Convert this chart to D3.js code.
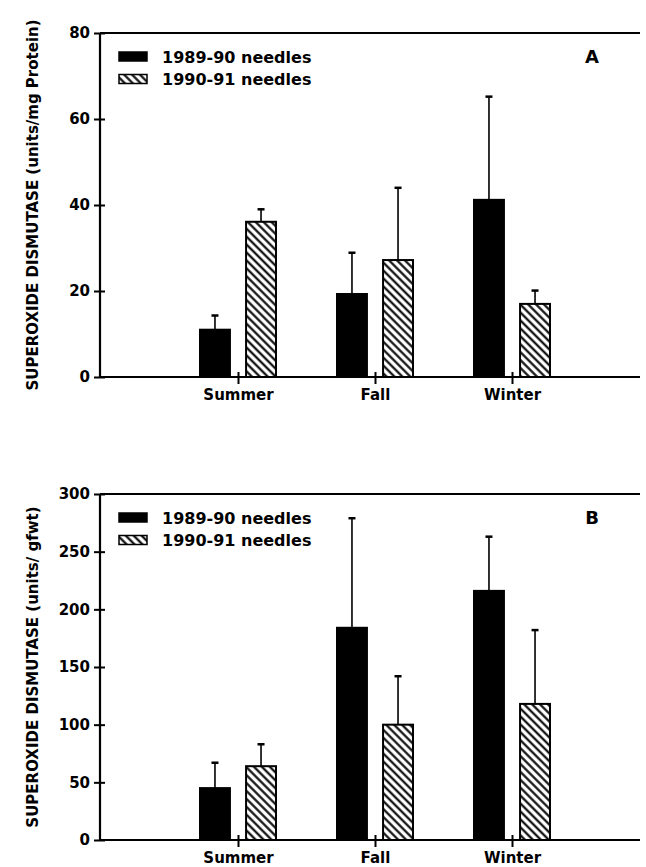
<!DOCTYPE html>
<html>
<head>
<meta charset="utf-8">
<script src="https://cdn.jsdelivr.net/npm/d3@7"></script>
<style>
    body { margin: 0; background: #fff; }
    svg { display: block; }
    text { font-family: "DejaVu Sans", sans-serif; font-weight: bold; fill: #000; }
</style>
</head>
<body>
<svg id="chart" width="646" height="867"></svg>
<script>
const SEASONS = ['Summer', 'Fall', 'Winter'];
const SERIES = ['1989-90 needles', '1990-91 needles'];

// panel A: units / mg protein
const PROTEIN_MEAN_8990 = [11, 19.3, 41.2];
const PROTEIN_ERR_8990 = [3.3, 9.6, 24];
const PROTEIN_MEAN_9091 = [36.1, 27.2, 17];
const PROTEIN_ERR_9091 = [2.9, 16.8, 3.1];
const PROTEIN_TICKS = [0, 20, 40, 60, 80];

// panel B: units / g fresh weight
const GFWT_MEAN_8990 = [45, 184, 216];
const GFWT_ERR_8990 = [22, 95, 47];
const GFWT_MEAN_9091 = [64, 100, 118];
const GFWT_ERR_9091 = [19, 42, 64];
const GFWT_TICKS = [0, 50, 100, 150, 200, 250, 300];

const PLOT_LEFT = 100;
const PLOT_RIGHT = 640;
const STEP = 137;

let svg = d3.select('#chart');

let defs = svg.append('defs');
let pattern = defs.append('pattern')
    .attr('id', 'hatch')
    .attr('patternUnits', 'userSpaceOnUse')
    .attr('width', 5.6)
    .attr('height', 5.6)
    .attr('patternTransform', 'rotate(-45)');
pattern.append('rect').attr('width', 5.6).attr('height', 5.6).attr('fill', '#fff');
pattern.append('line')
    .attr('x1', 1.4).attr('y1', 0)
    .attr('x2', 1.4).attr('y2', 5.6)
    .attr('stroke', '#000')
    .attr('stroke-width', 2.1);

function buildRows(means8990, errs8990, means9091, errs9091) {
    return SEASONS.map((season, i) => {
        return {
            season: season,
            bars: [
                {series: SERIES[0], mean: means8990[i], err: errs8990[i]},
                {series: SERIES[1], mean: means9091[i], err: errs9091[i]}
            ]
        };
    });
}

function drawPanel(panel) {
    let g = svg.append('g');

    let x = d3.scalePoint()
        .domain(SEASONS)
        .range([PLOT_LEFT + 1, PLOT_LEFT + 1 + STEP * (SEASONS.length + 1)])
        .padding(1);
    let inner = d3.scaleBand()
        .domain(SERIES)
        .range([-38, 38])
        .paddingInner(0.35);
    let yMax = panel.ticks[panel.ticks.length - 1];
    let y = d3.scaleLinear()
        .domain([0, yMax])
        .range([panel.bottom, panel.top]);

    // bars
    panel.rows.forEach(row => {
        row.bars.forEach((bar, i) => {
            let bx = x(row.season) + inner(bar.series);
            let cx = bx + inner.bandwidth() / 2;
            g.append('line')
                .attr('x1', cx).attr('x2', cx)
                .attr('y1', y(bar.mean))
                .attr('y2', y(bar.mean + bar.err))
                .attr('stroke', '#000')
                .attr('stroke-width', 1.6);
            g.append('line')
                .attr('x1', cx - 3.5).attr('x2', cx + 3.5)
                .attr('y1', y(bar.mean + bar.err))
                .attr('y2', y(bar.mean + bar.err))
                .attr('stroke', '#000')
                .attr('stroke-width', 2.5);
            g.append('rect')
                .attr('x', bx)
                .attr('y', y(bar.mean))
                .attr('width', inner.bandwidth())
                .attr('height', y(0) - y(bar.mean))
                .attr('fill', i === 0 ? '#000' : 'url(#hatch)')
                .attr('stroke', '#000')
                .attr('stroke-width', 2);
        });
    });

    // frame lines
    g.append('line')
        .attr('x1', PLOT_LEFT).attr('x2', PLOT_LEFT)
        .attr('y1', y(yMax)).attr('y2', y(0) + 1)
        .attr('stroke', '#000').attr('stroke-width', 2.2);
    g.append('line')
        .attr('x1', PLOT_LEFT).attr('x2', PLOT_RIGHT)
        .attr('y1', y(0)).attr('y2', y(0))
        .attr('stroke', '#000').attr('stroke-width', 2.2);
    g.append('line')
        .attr('x1', PLOT_LEFT).attr('x2', PLOT_RIGHT)
        .attr('y1', y(yMax)).attr('y2', y(yMax))
        .attr('stroke', '#000').attr('stroke-width', 2.2);

    let yAxis = g.append('g')
        .attr('transform', 'translate(' + PLOT_LEFT + ',0)')
        .call(d3.axisLeft(y).tickValues(panel.ticks).tickSize(6).tickPadding(4));
    yAxis.select('.domain').remove();
    yAxis.selectAll('.tick line').attr('x2', -6).attr('x1', 5).attr('stroke', '#000').attr('stroke-width', 2);
    yAxis.selectAll('.tick text').style('font-size', '15px').attr('fill', '#000');

    let xAxis = g.append('g')
        .attr('transform', 'translate(0,' + y(0) + ')')
        .call(d3.axisBottom(x).tickSize(7).tickPadding(5.5));
    xAxis.select('.domain').remove();
    xAxis.selectAll('.tick line').attr('y1', -5).attr('stroke', '#000').attr('stroke-width', 2);
    xAxis.selectAll('.tick text').style('font-size', '15px').attr('fill', '#000');

    // y title
    g.append('text')
        .attr('transform', 'translate(38,' + (y(yMax) + y(0)) / 2 + ') rotate(-90)')
        .attr('text-anchor', 'middle')
        .style('font-size', '15px')
        .text(panel.title);

    // legend
    SERIES.forEach((name, i) => {
        let ly = y(yMax) + 24 + i * 22.5;
        g.append('rect')
            .attr('x', 119)
            .attr('y', ly - 5)
            .attr('width', 28)
            .attr('height', 9)
            .attr('fill', i === 0 ? '#000' : 'url(#hatch)')
            .attr('stroke', '#000')
            .attr('stroke-width', 1.5);
        g.append('text')
            .attr('x', 162)
            .attr('y', ly)
            .attr('dy', '0.36em')
            .style('font-size', '16px')
            .text(name);
    });

    g.append('text')
        .attr('x', 592)
        .attr('y', y(yMax) + 30)
        .attr('text-anchor', 'middle')
        .style('font-size', '18px')
        .text(panel.letter);
}

drawPanel({
    letter: 'A',
    title: 'SUPEROXIDE DISMUTASE (units/mg Protein)',
    top: 33,
    bottom: 377,
    ticks: PROTEIN_TICKS,
    rows: buildRows(PROTEIN_MEAN_8990, PROTEIN_ERR_8990, PROTEIN_MEAN_9091, PROTEIN_ERR_9091)
});

drawPanel({
    letter: 'B',
    title: 'SUPEROXIDE DISMUTASE (units/ gfwt)',
    top: 494,
    bottom: 840,
    ticks: GFWT_TICKS,
    rows: buildRows(GFWT_MEAN_8990, GFWT_ERR_8990, GFWT_MEAN_9091, GFWT_ERR_9091)
});
</script>
</body>
</html>
